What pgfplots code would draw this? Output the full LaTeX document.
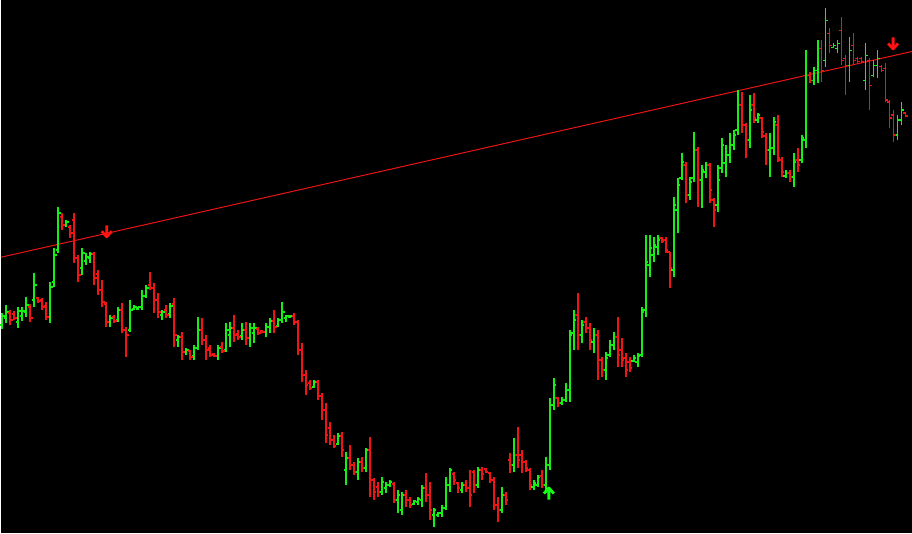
\documentclass[border=0pt]{standalone}
\usepackage{pgfplots}
\usepackage{pgfplotstable}
\pgfplotsset{compat=1.18}
\definecolor{upcol}{RGB}{20,240,20}
\definecolor{dncol}{RGB}{240,20,20}
\definecolor{trend}{RGB}{235,20,20}
\definecolor{arrred}{RGB}{255,20,20}
\definecolor{arrgrn}{RGB}{20,255,20}
% OHLC bar drawn at (index, close); vertical axis has 1 unit = 1pt
\pgfdeclareplotmark{ohlc}{%
 \pgfpathmoveto{\pgfpoint{0pt}{\dlv pt}}%
 \pgfpathlineto{\pgfpoint{0pt}{\dhv pt}}%
 \pgfpathmoveto{\pgfpoint{0pt}{0pt}}\pgfpathlineto{\pgfpoint{2.4pt}{0pt}}%
 \pgfpathmoveto{\pgfpoint{0pt}{\dov pt}}\pgfpathlineto{\pgfpoint{-2.4pt}{\dov pt}}%
 \pgfusepathqstroke}
\pgfdeclareplotmark{darrow}{\pgfsetlinewidth{2.8pt}\pgfsetroundjoin
 \pgfpathmoveto{\pgfpoint{0pt}{6.5pt}}\pgfpathlineto{\pgfpoint{0pt}{-5pt}}
 \pgfpathmoveto{\pgfpoint{-5pt}{0.5pt}}\pgfpathlineto{\pgfpoint{0pt}{-5pt}}\pgfpathlineto{\pgfpoint{5pt}{0.5pt}}\pgfusepathqstroke}
\pgfdeclareplotmark{uarrow}{\pgfsetlinewidth{2.8pt}\pgfsetroundjoin
 \pgfpathmoveto{\pgfpoint{0pt}{-6.5pt}}\pgfpathlineto{\pgfpoint{0pt}{5pt}}
 \pgfpathmoveto{\pgfpoint{-5pt}{-0.5pt}}\pgfpathlineto{\pgfpoint{0pt}{5pt}}\pgfpathlineto{\pgfpoint{5pt}{-0.5pt}}\pgfusepathqstroke}
\pgfplotsset{ohlcbars/.style={scatter, only marks, mark=ohlc, line width=1.8pt,
  scatter/use mapped color={draw=#1, fill=#1},
  visualization depends on={\thisrow{c}-\thisrow{h}\as\dhv},
  visualization depends on={\thisrow{c}-\thisrow{l}\as\dlv},
  visualization depends on={\thisrow{c}-\thisrow{o}\as\dov}}}

% bars: i = bar index, h = top, l = bottom, o = open, c = close (screen units, downward)
\pgfplotstableread{
i h l o c
0 313 329 325 316
1 305 323 318 312
4 307 328 322 311
5 307 321 316 311
6 297 317 312 305
8 273 307 300 285
12 282 323 317 287
13 248 287 282 255
14 207 253 250 213
16 220 227 225 222
20 248 275 268 253
21 253 265 261 257
22 252 263 258 254
27 315 327 322 318
29 307 322 320 310
32 300 332 330 310
33 305 310 309 307
34 307 310 309 307
35 290 310 307 296
36 285 298 296 288
40 310 320 315 312
42 303 318 314 306
44 335 347 340 337
46 348 355 352 350
48 345 360 356 348
49 317 350 348 330
54 345 360 356 348
56 323 352 350 330
57 322 347 335 328
60 323 340 336 330
62 323 347 338 328
63 323 343 333 328
66 323 337 332 327
67 318 333 327 321
69 318 327 326 320
70 302 323 320 312
71 315 322 318 316
72 315 318 317 316
78 380 388 387 382
84 433 445 444 436
86 452 485 470 458
89 458 480 472 462
91 448 472 468 450
95 477 495 492 482
96 482 493 488 485
97 480 487 485 482
99 490 513 500 495
100 492 515 510 495
103 500 505 504 501
104 497 505 502 499
105 485 507 500 488
108 508 527 515 510
109 512 517 515 513
110 505 517 513 508
111 477 510 508 485
112 468 492 485 470
115 482 493 490 485
119 467 488 485 470
125 487 513 510 495
128 438 472 465 455
133 480 490 487 483
134 475 487 485 477
136 457 493 485 465
137 398 470 465 405
138 378 410 405 385
140 397 405 403 400
141 383 402 400 390
142 330 402 390 335
143 310 350 333 320
145 320 343 335 325
148 328 353 342 335
151 352 380 370 358
152 340 357 355 345
153 332 350 345 337
158 355 362 361 358
159 353 367 362 356
160 307 357 355 312
161 235 317 310 262
162 235 277 265 248
163 237 262 255 245
164 235 255 247 240
168 197 277 270 205
169 178 233 210 185
170 153 180 178 162
172 177 200 195 182
173 132 182 178 150
175 165 208 180 170
176 162 178 172 165
179 165 212 205 180
180 138 173 168 145
181 145 177 163 155
182 133 163 155 145
183 130 150 145 135
184 90 135 130 105
187 95 148 140 110
189 113 123 120 115
192 133 177 150 148
193 117 155 148 122
196 170 178 176 173
198 153 187 177 162
200 135 163 160 138
201 50 148 140 75
203 67 85 80 70
204 40 83 70 48
206 8 67 60 20
208 43 48 47 45
209 40 53 48 43
212 37 82 65 50
216 43 90 80 55
218 60 77 75 65
219 50 78 65 58
224 115 140 135 120
225 102 125 120 110
}\upbars

\pgfplotstableread{
i h l o c
2 310 325 313 320
3 311 320 314 318
7 304 322 307 318
9 297 303 298 301
10 298 310 300 307
11 302 320 306 317
15 213 230 217 225
17 225 238 227 233
18 213 263 220 258
19 255 282 258 275
23 252 285 254 278
24 270 295 274 290
25 280 307 290 302
26 302 327 304 322
28 315 323 317 321
30 303 333 310 330
31 327 357 330 335
37 272 290 285 288
38 283 313 288 300
39 293 318 300 312
41 305 318 310 315
43 298 347 304 335
45 332 360 337 352
47 350 360 351 357
50 318 345 330 340
51 335 360 340 350
52 345 357 348 355
53 353 357 354 356
55 342 353 347 351
58 315 342 328 335
59 330 340 334 337
61 322 345 330 338
64 327 335 329 333
65 330 333 331 332
68 310 333 321 327
73 313 325 316 322
74 320 355 322 350
75 343 382 350 375
76 370 395 375 385
77 380 390 383 388
79 380 400 382 396
80 393 420 396 410
81 403 443 410 435
82 422 445 428 440
83 435 448 440 446
85 432 457 436 450
87 445 470 458 465
88 462 475 465 472
90 457 472 462 468
92 437 497 450 480
93 478 500 480 492
94 482 497 487 492
98 482 503 484 500
101 490 507 495 500
102 497 508 500 505
106 473 502 488 495
107 482 520 495 510
113 472 485 474 480
114 482 493 483 488
116 480 492 485 488
117 470 507 488 495
118 470 493 472 485
120 467 480 470 474
121 468 473 469 472
122 472 483 473 480
123 477 510 480 505
124 497 522 505 510
126 492 505 495 500
127 453 473 460 465
129 427 468 455 460
130 450 473 455 462
131 460 472 462 468
132 468 490 470 485
135 470 488 476 485
139 397 407 398 403
144 293 350 315 335
146 317 333 322 328
147 323 350 328 340
149 330 380 335 360
150 357 377 360 370
154 317 367 337 355
155 338 367 350 360
156 353 377 358 370
157 357 372 362 368
165 237 243 238 241
166 237 253 240 250
167 252 288 252 268
171 162 203 165 195
174 147 207 150 180
177 163 203 165 190
178 198 227 200 210
185 92 133 105 125
186 123 158 125 140
188 93 123 105 118
190 117 138 118 132
191 133 165 136 150
194 115 162 125 158
195 157 177 160 172
197 170 182 173 177
199 148 172 160 165
202 72 83 75 80
205 40 82 48 70
207 28 53 33 45
210 17 65 30 60
211 55 95 58 65
213 33 65 45 60
214 57 63 58 61
215 57 63 58 61
217 58 110 60 85
220 65 72 66 70
221 63 102 68 100
222 100 128 102 118
223 110 142 115 135
226 113 117 113 116
}\dnbars

\begin{document}
\begin{tikzpicture}
\begin{axis}[
  width=912pt, height=534pt, scale only axis,
  xmin=-0.375, xmax=227.625,
  ymin=-0.5, ymax=533.5, y dir=reverse,
  xtick=\empty, ytick=\empty,
  axis line style={draw=none},
  axis background/.style={fill=black},
]
% trend line
\addplot[trend, line width=1pt] coordinates {(-0.375,257) (227.625,51)};
% bars
\addplot[ohlcbars=upcol] table[x=i, y=c] {\upbars};
\addplot[ohlcbars=dncol] table[x=i, y=c] {\dnbars};
% signal arrows
\addplot[arrred, only marks, mark=darrow] coordinates {(26.1,231.5) (222.9,43.5)};
\addplot[arrgrn, only marks, mark=uarrow] coordinates {(136.75,493)};
\end{axis}
\end{tikzpicture}
\end{document}
